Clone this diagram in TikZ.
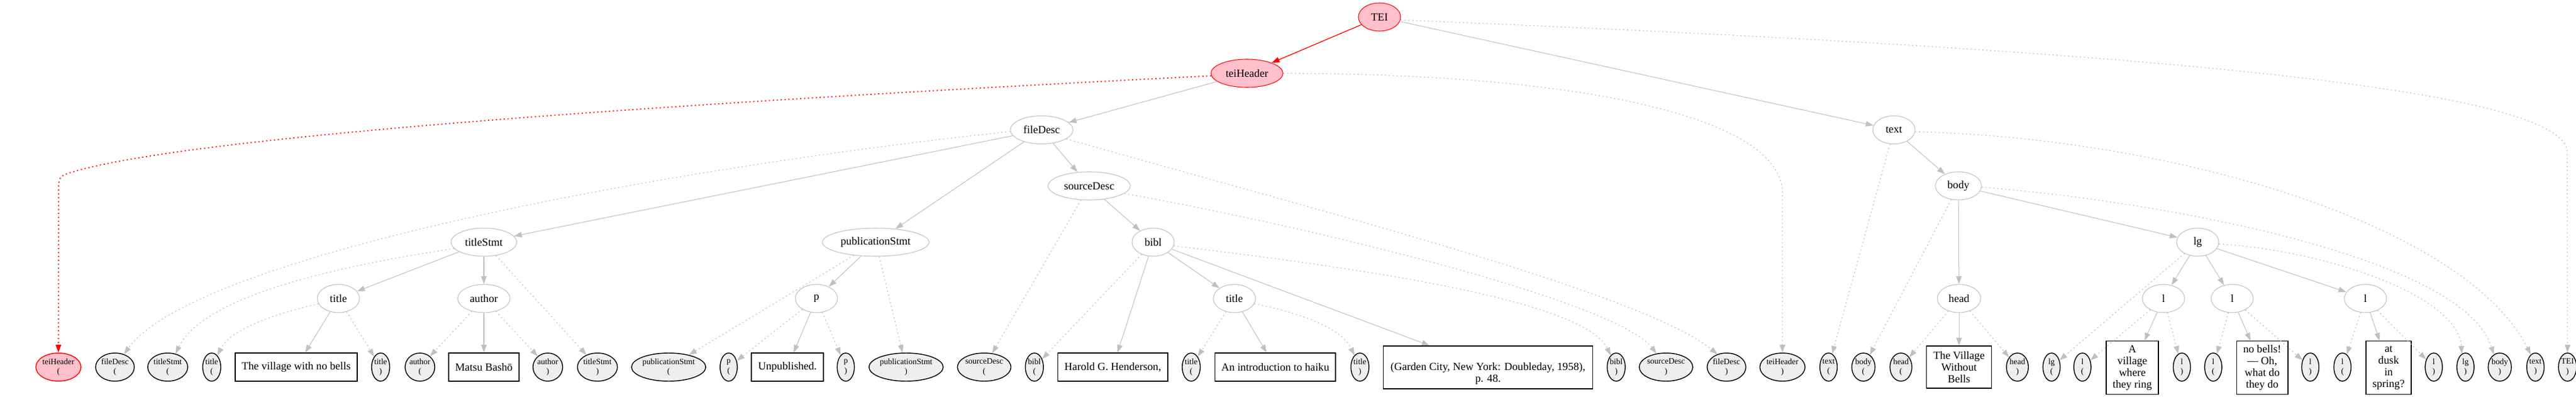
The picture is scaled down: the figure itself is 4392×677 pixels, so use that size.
\documentclass[tikz,border=0pt]{standalone}
\usepackage{fontspec}
\setmainfont{Liberation Serif}
\usetikzlibrary{arrows.meta,shapes.geometric}
\definecolor{edgegray}{HTML}{C0C0C0}
\definecolor{leafgray}{HTML}{EEEEEE}
\definecolor{pinkfill}{HTML}{FFC0CB}
\definecolor{tred}{HTML}{FF0000}
\tikzset{
  elem/.style={ellipse, draw=edgegray, line width=0.8pt, fill=white, inner sep=0pt,
    minimum width=54pt, minimum height=36pt, font=\fontsize{14}{16}\selectfont},
  hotnode/.style={draw=tred, fill=pinkfill},
  leafnode/.style={ellipse, draw=black, line width=1.1pt, fill=leafgray, inner sep=0pt,
    minimum width=22pt, minimum height=36pt, align=center, font=\fontsize{10.5}{12.5}\selectfont},
  textbox/.style={rectangle, draw=black, line width=1.1pt, fill=white, inner xsep=8pt,
    inner ysep=4pt, minimum height=36pt, align=center, font=\fontsize{14}{15}\selectfont},
  treeedge/.style={draw=edgegray, line width=0.8pt, -{Triangle[length=10pt,width=7pt]}},
  tagedge/.style={draw=edgegray, line width=1pt, dash pattern=on 1.5pt off 3.5pt,
    -{Triangle[length=10pt,width=7pt]}},
  hotedge/.style={draw=tred, line width=1pt, -{Triangle[length=10pt,width=7pt]}},
  hottagedge/.style={draw=tred, line width=1.4pt, dash pattern=on 1.5pt off 3.5pt,
    -{Triangle[length=10pt,width=7pt]}},
}
\begin{document}
\begin{tikzpicture}[x=0.75pt, y=-0.75pt]
\useasboundingbox (0,0) rectangle (4392,677);
% inner element nodes
\node[elem,hotnode] (TEI) at (2352,29) {TEI};
\node[elem,hotnode,minimum width=92pt] (teiHeader) at (2126,125) {teiHeader};
\node[elem] (text) at (3229,221.5) {text};
\node[elem,minimum width=80pt] (fileDesc) at (1776,221.5) {fileDesc};
\node[elem,minimum width=105pt] (sourceDesc) at (1857,317) {sourceDesc};
\node[elem,minimum width=59pt] (body) at (3339,317) {body};
\node[elem,minimum width=84pt] (titleStmt) at (825,413) {titleStmt};
\node[elem,minimum width=136.5pt] (pubStmt) at (1493,413) {publicationStmt};
\node[elem] (bibl) at (1966,413) {bibl};
\node[elem] (lg) at (3747,413) {lg};
\node[elem] (titleA) at (577,509) {title};
\node[elem,minimum width=67pt] (author) at (825,509) {author};
\node[elem] (p) at (1392,509) {p};
\node[elem] (titleB) at (2104.6,509) {title};
\node[elem,minimum width=55.5pt] (head) at (3340,509) {head};
\node[elem] (lA) at (3688.6,509) {l};
\node[elem] (lB) at (3805.8,509) {l};
\node[elem] (lC) at (4033,509) {l};
% leaves
\node[leafnode,hotnode] (thL) at (99.6,626) {teiHeader\\(};
\node[leafnode] (fdL) at (196,626) {fileDesc\\(};
\node[leafnode] (tsL) at (286,626) {titleStmt\\(};
\node[leafnode] (taL) at (361,626) {title\\(};
\node[textbox,minimum width=156.3pt] (b1) at (505,626) {The village with no bells};
\node[leafnode] (taR) at (649,626) {title\\)};
\node[leafnode] (auL) at (716,626) {author\\(};
\node[textbox,minimum width=90pt] (b2) at (825,626) {Matsu Bashō};
\node[leafnode] (auR) at (934,626) {author\\)};
\node[leafnode] (tsR) at (1018.6,626) {titleStmt\\)};
\node[leafnode] (psL) at (1140,626) {publicationStmt\\(};
\node[leafnode] (pL) at (1242.4,626) {p\\(};
\node[textbox,minimum width=92.3pt] (b3) at (1342.6,626) {Unpublished.};
\node[leafnode] (pR) at (1442,626) {p\\)};
\node[leafnode] (psR) at (1544.8,626) {publicationStmt\\)};
\node[leafnode] (sdL) at (1678,626) {sourceDesc\\(};
\node[leafnode] (bbL) at (1763.6,626) {bibl\\(};
\node[textbox,minimum width=140.5pt] (b4) at (1897.3,626) {Harold G. Henderson,};
\node[leafnode] (tbL) at (2031,626) {title\\(};
\node[textbox,minimum width=154pt] (b5) at (2174.3,626) {An introduction to haiku};
\node[leafnode] (tbR) at (2318.6,626) {title\\)};
\node[textbox,minimum width=268pt,minimum height=54.8pt] (b6) at (2537,626.5) {\strut\\(Garden City, New York: Doubleday, 1958),\\p. 48.};
\node[leafnode] (bbR) at (2755.6,626) {bibl\\)};
\node[leafnode] (sdR) at (2840.5,626) {sourceDesc\\)};
\node[leafnode] (fdR) at (2943.6,626) {fileDesc\\)};
\node[leafnode] (thR) at (3039,626) {teiHeader\\)};
\node[leafnode] (txL) at (3117.6,626) {text\\(};
\node[leafnode] (bdL) at (3177,626) {body\\(};
\node[leafnode] (hdL) at (3241,626) {head\\(};
\node[textbox,minimum width=83.3pt,minimum height=54pt] (b7) at (3340,626) {The Village\\Without\\Bells};
\node[leafnode] (hdR) at (3439.6,626) {head\\)};
\node[leafnode] (lgL) at (3497.8,626) {lg\\(};
\node[leafnode] (laL) at (3550.4,626) {l\\(};
\node[textbox,minimum width=66.8pt,minimum height=68pt] (b8) at (3635.5,627) {A\\village\\where\\they ring};
\node[leafnode] (laR) at (3720,626) {l\\)};
\node[leafnode] (lbL) at (3773.5,626) {l\\(};
\node[textbox,minimum width=65.6pt,minimum height=68pt] (b9) at (3857,627) {no bells!\\— Oh,\\what do\\they do};
\node[leafnode] (lbR) at (3939,626) {l\\)};
\node[leafnode] (lcL) at (3993.8,626) {l\\(};
\node[textbox,minimum width=57.8pt,minimum height=68pt] (b10) at (4072.5,627) {at\\dusk\\in\\spring?};
\node[leafnode] (lcR) at (4149.5,626) {l\\)};
\node[leafnode] (lgR) at (4203.5,626) {lg\\)};
\node[leafnode] (bdR) at (4262,626) {body\\)};
\node[leafnode] (txR) at (4322.8,626) {text\\)};
\node[leafnode] (teiR) at (4377.5,626) {TEI\\)};
% tree edges
\draw[hotedge] (TEI) -- (teiHeader);
\draw[treeedge] (TEI) -- (text);
\draw[treeedge] (teiHeader) -- (fileDesc);
\draw[treeedge] (fileDesc) -- (titleStmt);
\draw[treeedge] (fileDesc) -- (pubStmt);
\draw[treeedge] (fileDesc) -- (sourceDesc);
\draw[treeedge] (titleStmt) -- (titleA);
\draw[treeedge] (titleStmt) -- (author);
\draw[treeedge] (titleA) -- (b1);
\draw[treeedge] (author) -- (b2);
\draw[treeedge] (pubStmt) -- (p);
\draw[treeedge] (p) -- (b3);
\draw[treeedge] (sourceDesc) -- (bibl);
\draw[treeedge] (bibl) -- (b4);
\draw[treeedge] (bibl) -- (titleB);
\draw[treeedge] (bibl) -- (b6);
\draw[treeedge] (titleB) -- (b5);
\draw[treeedge] (text) -- (body);
\draw[treeedge] (body) -- (head);
\draw[treeedge] (body) -- (lg);
\draw[treeedge] (head) -- (b7);
\draw[treeedge] (lg) -- (lA);
\draw[treeedge] (lg) -- (lB);
\draw[treeedge] (lg) -- (lC);
\draw[treeedge] (lA) -- (b8);
\draw[treeedge] (lB) -- (b9);
\draw[treeedge] (lC) -- (b10);
% tag edges (curved)
\draw[hottagedge] (teiHeader.184) .. controls (1100,178) and (300,235) .. (115,296)
   .. controls (102,300) and (100,306) .. (100,320) -- (thL.north);
\draw[tagedge] (fileDesc.183) .. controls (1100,290) and (330,440) .. (fdL.55);
\draw[tagedge] (fileDesc.-20) .. controls (2250,360) and (2800,500) .. (fdR.125);
\draw[tagedge] (teiHeader.east) .. controls (2700,126) and (3039,200) .. (3039,330) -- (thR.north);
\draw[tagedge] (TEI.-8) .. controls (3500,80) and (4377,140) .. (4377,260) -- (teiR.north);
\draw[tagedge] (text.-5) .. controls (3700,235) and (4200,380) .. (txR.110);
\draw[tagedge] (body.-3) .. controls (3700,345) and (4200,440) .. (bdR.115);
\draw[tagedge] (lg.-5) .. controls (3950,425) and (4190,500) .. (lgR.105);
\draw[tagedge] (sourceDesc.-12) .. controls (2300,400) and (2760,520) .. (sdR.125);
\draw[tagedge] (bibl.-10) .. controls (2300,455) and (2700,510) .. (bbR.115);
\draw[tagedge] (titleB.-15) .. controls (2200,530) and (2285,555) .. (tbR.115);
\draw[tagedge] (titleStmt.192) .. controls (600,450) and (350,500) .. (tsL.60);
\draw[tagedge] (titleA.195) .. controls (470,535) and (395,560) .. (taL.65);
% tag edges (straight)
\draw[tagedge] (titleStmt) -- (tsR);
\draw[tagedge] (titleA) -- (taR);
\draw[tagedge] (author) -- (auL);
\draw[tagedge] (author) -- (auR);
\draw[tagedge] (pubStmt) -- (psL);
\draw[tagedge] (pubStmt) -- (psR);
\draw[tagedge] (p) -- (pL);
\draw[tagedge] (p) -- (pR);
\draw[tagedge] (sourceDesc) -- (sdL);
\draw[tagedge] (bibl) -- (bbL);
\draw[tagedge] (titleB) -- (tbL);
\draw[tagedge] (text) -- (txL);
\draw[tagedge] (body) -- (bdL);
\draw[tagedge] (head) -- (hdL);
\draw[tagedge] (head) -- (hdR);
\draw[tagedge] (lg) -- (lgL);
\draw[tagedge] (lA) -- (laL);
\draw[tagedge] (lA) -- (laR);
\draw[tagedge] (lB) -- (lbL);
\draw[tagedge] (lB) -- (lbR);
\draw[tagedge] (lC) -- (lcL);
\draw[tagedge] (lC) -- (lcR);
\end{tikzpicture}
\end{document}
